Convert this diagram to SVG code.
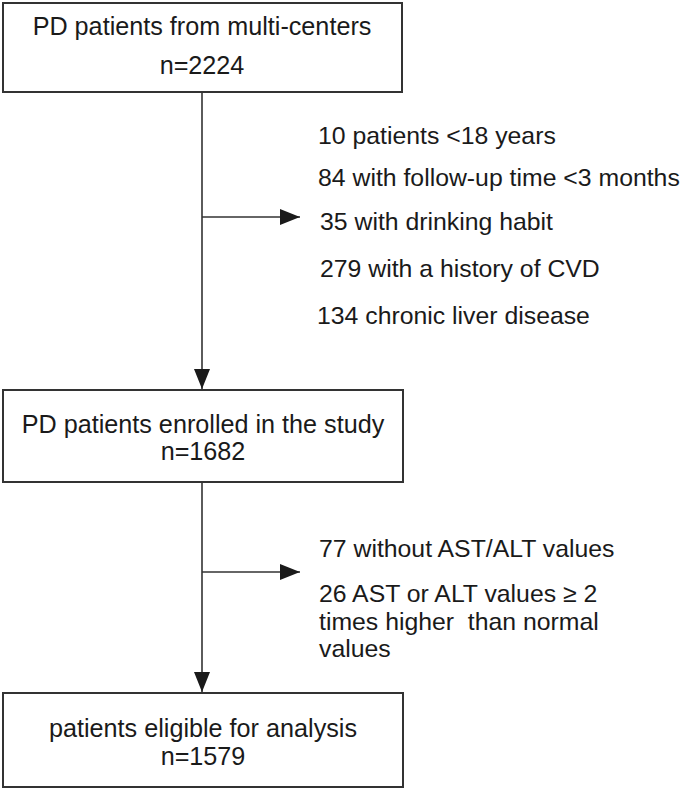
<svg xmlns="http://www.w3.org/2000/svg" width="685" height="789" viewBox="0 0 685 789">
<style>
.box{fill:#fff;stroke:#333;stroke-width:2}
.t{font-family:"Liberation Sans",Arial,sans-serif;font-size:25.2px;fill:#1a1a1a}
.s{font-size:24.8px}
.c{text-anchor:middle}
.ln{fill:none;stroke:#333;stroke-width:1.6}
</style>
<defs>
<marker id="ah" markerUnits="userSpaceOnUse" markerWidth="22" markerHeight="18" refX="20" refY="8" orient="auto">
<path d="M0,0 L20,8 L0,16 Z" fill="#1a1a1a"/>
</marker>
</defs>
<rect width="685" height="789" fill="#fff"/>
<g id="connectors">
<line class="ln" x1="202" y1="92" x2="202" y2="389" marker-end="url(#ah)"/>
<line class="ln" x1="202" y1="217" x2="300" y2="217" marker-end="url(#ah)"/>
<line class="ln" x1="202" y1="482" x2="202" y2="692" marker-end="url(#ah)"/>
<line class="ln" x1="202" y1="572" x2="300" y2="572" marker-end="url(#ah)"/>
</g>
<g id="node1">
<rect class="box" x="3" y="3" width="399" height="89"/>
<text class="t c" x="202" y="35">PD patients from multi-centers</text>
<text class="t c" x="202" y="74">n=2224</text>
</g>
<g id="exclusion1">
<text class="t s" x="318" y="144">10 patients &lt;18 years</text>
<text class="t s" x="318" y="186">84 with follow-up time &lt;3 months</text>
<text class="t s" x="320" y="230">35 with drinking habit</text>
<text class="t s" x="320" y="277">279 with a history of CVD</text>
<text class="t s" x="317" y="324">134 chronic liver disease</text>
</g>
<g id="node2">
<rect class="box" x="3" y="390" width="400" height="92"/>
<text class="t c" x="203" y="433">PD patients enrolled in the study</text>
<text class="t c" x="203" y="460">n=1682</text>
</g>
<g id="exclusion2">
<text class="t s" x="319" y="557">77 without AST/ALT values</text>
<text class="t s" x="319" y="602">26 AST or ALT values ≥ 2</text>
<text class="t s" x="319" y="630" xml:space="preserve">times higher  than normal</text>
<text class="t s" x="319" y="657">values</text>
</g>
<g id="node3">
<rect class="box" x="3" y="693" width="400" height="94"/>
<text class="t c" x="203" y="737">patients eligible for analysis</text>
<text class="t c" x="203" y="765">n=1579</text>
</g>
</svg>
